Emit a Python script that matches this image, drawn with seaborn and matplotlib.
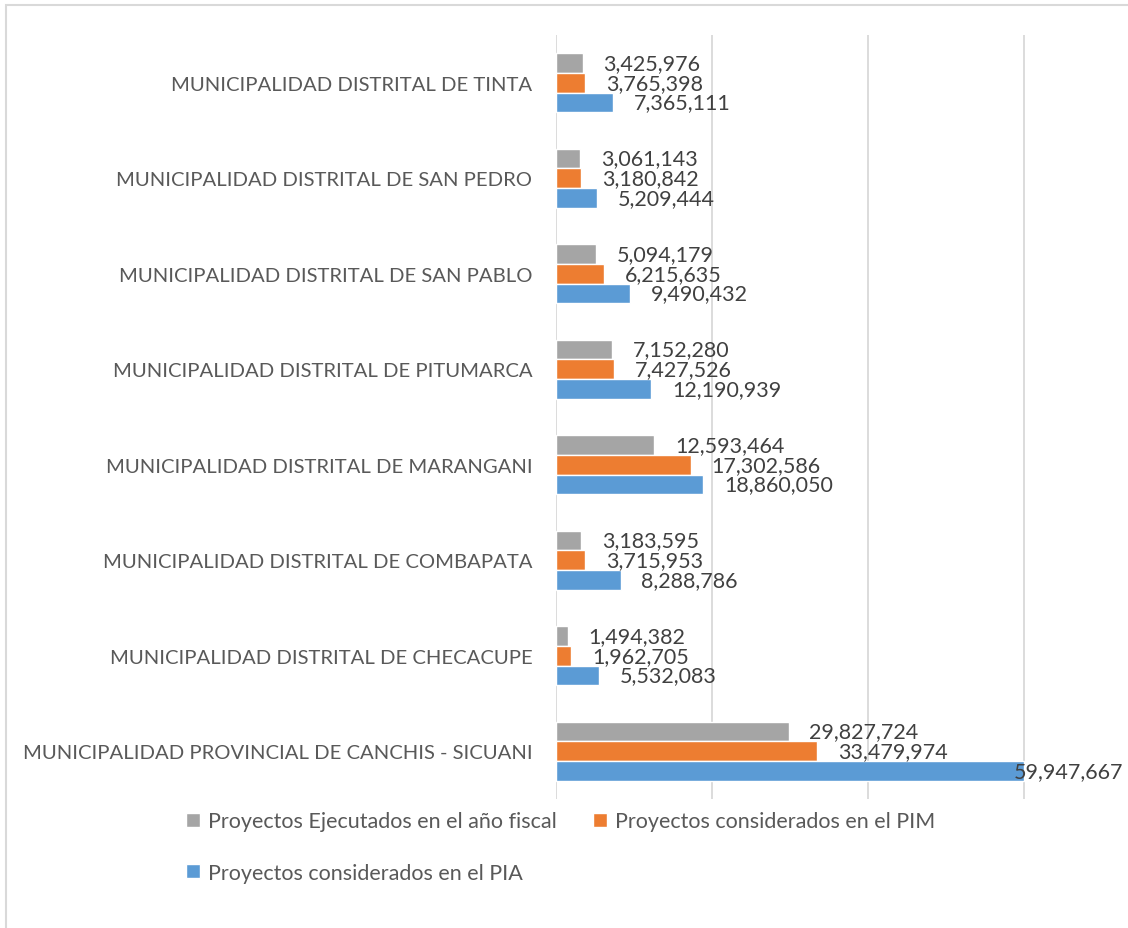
import pandas as pd
import numpy as np
import matplotlib.pyplot as plt
import seaborn as sns
from matplotlib.patches import Rectangle

# Data
municipios = [
    "MUNICIPALIDAD DISTRITAL DE TINTA",
    "MUNICIPALIDAD DISTRITAL DE SAN PEDRO",
    "MUNICIPALIDAD DISTRITAL DE SAN PABLO",
    "MUNICIPALIDAD DISTRITAL DE PITUMARCA",
    "MUNICIPALIDAD DISTRITAL DE MARANGANI",
    "MUNICIPALIDAD DISTRITAL DE COMBAPATA",
    "MUNICIPALIDAD DISTRITAL DE CHECACUPE",
    "MUNICIPALIDAD PROVINCIAL DE CANCHIS - SICUANI",
]
ejecutados = [3425976, 3061143, 5094179, 7152280, 12593464, 3183595, 1494382, 29827724]
pim = [3765398, 3180842, 6215635, 7427526, 17302586, 3715953, 1962705, 33479974]
pia = [7365111, 5209444, 9490432, 12190939, 18860050, 8288786, 5532083, 59947667]

series = [
    "Proyectos Ejecutados en el año fiscal",
    "Proyectos considerados en el PIM",
    "Proyectos considerados en el PIA",
]
colores = ["#A5A5A5", "#ED7D31", "#5B9BD5"]

df = pd.DataFrame({
    "municipio": municipios * 3,
    "serie": [series[0]] * 8 + [series[1]] * 8 + [series[2]] * 8,
    "monto": ejecutados + pim + pia,
})

sns.set_style("white")
plt.rcParams['font.family'] = ['Lato', 'DejaVu Sans']
txt = "#595959"

fig = plt.figure(figsize=(11.28, 9.29), dpi=100)
ax = fig.add_axes([556 / 1128, 1 - 800 / 929, 572 / 1128, 764 / 929])

sns.barplot(data=df, y="municipio", x="monto", hue="serie",
            order=municipios, hue_order=series, palette=colores,
            orient="h", width=0.62, saturation=1, errorbar=None, ax=ax)

ax.set_xlim(0, 60e6 * 572 / 468)
ax.set_xticks([0, 20e6, 40e6, 60e6])
ax.set_xticklabels([])
ax.xaxis.grid(True, color="#D9D9D9", lw=1.3)
ax.set_axisbelow(True)
for s in ax.spines.values():
    s.set_visible(False)
ax.tick_params(axis="both", length=0)
ax.tick_params(axis="y", labelsize=14.6, labelcolor=txt, pad=17)
ax.set_xlabel("")
ax.set_ylabel("")

# value labels
vmax = max(pia)
for cont in ax.containers:
    for bar in cont:
        w = bar.get_width()
        yc = bar.get_y() + bar.get_height() / 2
        off = -7 if w >= vmax else 15
        ax.annotate(f"{w:,.0f}", xy=(w, yc), xytext=(off, 0),
                    textcoords="offset points", va="center", ha="left",
                    fontsize=15.5, color="#404040")

ax.get_legend().remove()
h, l = ax.get_legend_handles_labels()
idx = [0, 2, 1]
fig.legend([h[i] for i in idx], [l[i] for i in idx], ncol=2,
           loc="upper center", bbox_to_anchor=(0.497, 1 - 793 / 929),
           frameon=False, fontsize=15.5, labelcolor=txt,
           handlelength=0.65, handleheight=0.65, handletextpad=0.4,
           labelspacing=1.45, columnspacing=1.65)

# chart border
fig.add_artist(Rectangle((6 / 1128, -0.05), 1.2, 1 - 6 / 929 + 0.05,
                         transform=fig.transFigure, fill=False,
                         edgecolor="#D9D9D9", lw=1.5))

fig.savefig("out.png", dpi=100)
